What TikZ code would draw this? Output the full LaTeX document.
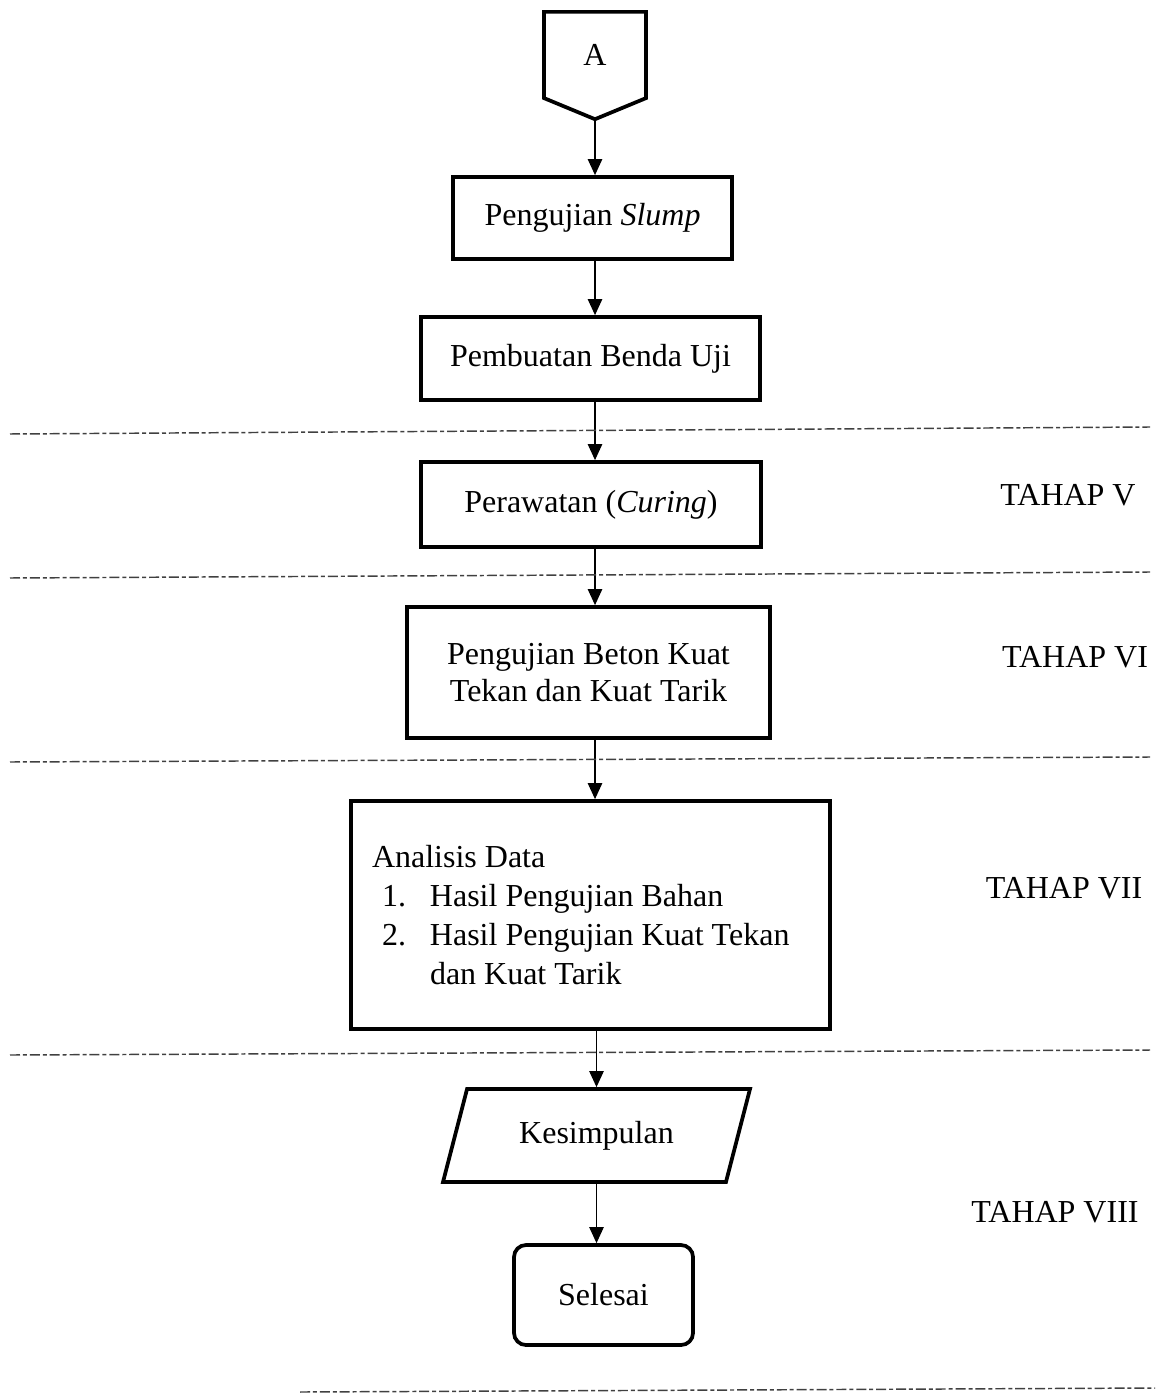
\documentclass[tikz,border=0pt]{standalone}
\usepackage{fontspec}
\setmainfont{Liberation Serif}
\usetikzlibrary{arrows.meta,positioning,shapes.geometric,shapes.symbols}
\newcommand{\px}{0.375pt}
\tikzset{box/.style={draw,line width=1.4pt,align=center,inner sep=0pt,font=\fontsize{12}{13.9}\selectfont},arr/.style={-{Triangle[width=5.4pt,length=6pt]},line width=0.45pt},stage/.style={draw=black!75,line width=0.55pt,dash pattern=on 3.75pt off 1.1pt on 1.5pt off 1.1pt},tahap/.style={font=\fontsize{12}{12}\selectfont}}

\begin{document}
\begin{tikzpicture}[x=0.375pt,y=-0.375pt]
\useasboundingbox (0,0) rectangle (1159,1396);
\node[box,signal,signal to=south,signal pointer angle=135,minimum width=102*\px,minimum height=91*\px] (A) at (595,55) {A};
\node[box,minimum width=279*\px,minimum height=82*\px] (slump) at (592.5,218) {Pengujian \textit{Slump}};
\node[box,minimum width=339*\px,minimum height=83*\px] (benda) at (590.5,358.5) {Pembuatan Benda Uji};
\node[box,minimum width=340*\px,minimum height=85*\px] (curing) at (591,504.5) {Perawatan (\textit{Curing})};
\node[box,minimum width=363*\px,minimum height=131*\px] (beton) at (588.5,672.5) {Pengujian Beton Kuat\\Tekan dan Kuat Tarik};
\node[box,align=flush left,text width=437*\px,inner xsep=21*\px,minimum height=228*\px,font=\fontsize{12}{14.6}\selectfont] (analisis) at (590.5,915) {Analisis Data\\\hspace*{3.75pt}\makebox[18pt][l]{1.}Hasil Pengujian Bahan\\\hspace*{3.75pt}\makebox[18pt][l]{2.}Hasil Pengujian Kuat Tekan\\\hspace*{21.75pt}dan Kuat Tarik};
\node[box,trapezium,trapezium left angle=75.5,trapezium right angle=104.5,trapezium stretches body,inner ysep=12pt,minimum width=307*\px,minimum height=93*\px] (kesimpulan) at (596.5,1135.5) {Kesimpulan};
\node[box,rounded corners=4.5pt,minimum width=179*\px,minimum height=100*\px] (selesai) at (603.5,1295) {Selesai};
\draw[arr] (A.south) -- (A.south |- slump.north); \draw[arr] (slump.south -| A.south) -- (benda.north -| A.south);
\draw[arr] (benda.south -| A.south) -- (curing.north -| A.south); \draw[arr] (curing.south -| A.south) -- (beton.north -| A.south);
\draw[arr] (beton.south -| A.south) -- (analisis.north -| A.south);
\draw[arr] (analisis.south -| kesimpulan.center) -- (kesimpulan.north -| kesimpulan.center); \draw[arr] (kesimpulan.south -| kesimpulan.center) -- (selesai.north -| kesimpulan.center);
% batas tahap
\draw[stage] (10,434) -- (1150,427); \draw[stage] (10,578) -- (1150,572); \draw[stage] (10,762) -- (1150,757);
\draw[stage] (10,1055) -- (1150,1050); \draw[stage] (300,1392) -- (1155,1388);
\node[tahap] (t5) at (1068,495) {TAHAP V};
\node[tahap] (t6) at (1075,657) {TAHAP VI};
\node[tahap] (t7) at (1064,888) {TAHAP VII};
\node[tahap] (t8) at (1055,1212) {TAHAP VIII};
\end{tikzpicture}
\end{document}
